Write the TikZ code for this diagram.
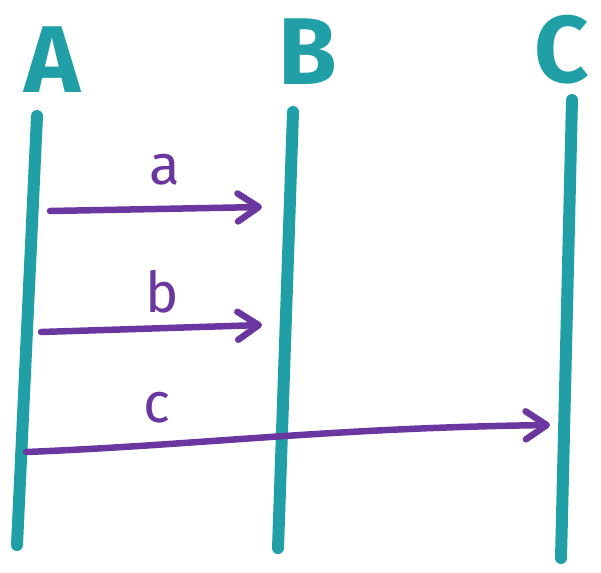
\documentclass[tikz,border=0pt]{standalone}
\usepackage{fontspec}
\setsansfont{Fira Sans}
\usepackage{tikz}
\usetikzlibrary{arrows.meta}
\usepackage{xcolor}
\definecolor{marker}{HTML}{20A0A6}
\definecolor{ink}{HTML}{6A36A0}

\begin{document}
\begin{tikzpicture}[x=0.02cm, y=-0.02cm,
    lifeline/.style={draw=marker, line width=0.24cm, line cap=round},
    message/.style={draw=ink, line width=0.13cm, line cap=round, line join=round,
        -{Straight Barb[length=0.42cm, width=0.56cm, line cap=round, line join=round]}},
    head/.style={text=marker, font=\sffamily\bfseries\fontsize{54}{60}\selectfont, inner sep=0pt},
    msglabel/.style={text=ink, font=\sffamily\fontsize{32}{36}\selectfont, inner sep=0pt}]
    \useasboundingbox (0,0) rectangle (601,572);

    % Participants
    \node[head] (A) at (52,60) {A};
    \node[head] (B) at (308,52) {B};
    \node[head] (C) at (562,50) {C};

    % Lifeline end points
    \coordinate (a top) at (37,116);
    \coordinate (a bot) at (17,545);
    \coordinate (b top) at (293,112);
    \coordinate (b bot) at (278,548);
    \coordinate (c top) at (572,100);
    \coordinate (c bot) at (561,558);

    % Lifelines
    \draw[lifeline] (a top) -- (a bot);
    \draw[lifeline] (b top) -- (b bot);
    \draw[lifeline] (c top) -- (c bot);

    % Message end points
    \coordinate (a from) at (50,211);
    \coordinate (a to) at (262,207);
    \coordinate (b from) at (41,332);
    \coordinate (b to) at (262,325);
    \coordinate (c from) at (26,452);
    \coordinate (c to) at (550,425);

    % Messages
    \draw[message] (a from) -- (a to);
    \draw[message] (b from) -- (b to);
    \draw[message] (c from) .. controls (200,445) and (330,428) .. (c to);

    % Message labels
    \node[msglabel] (la) at (165,170) {a};
    \node[msglabel] (lb) at (162,292) {b};
    \node[msglabel] (lc) at (157,408) {c};
\end{tikzpicture}
\end{document}
